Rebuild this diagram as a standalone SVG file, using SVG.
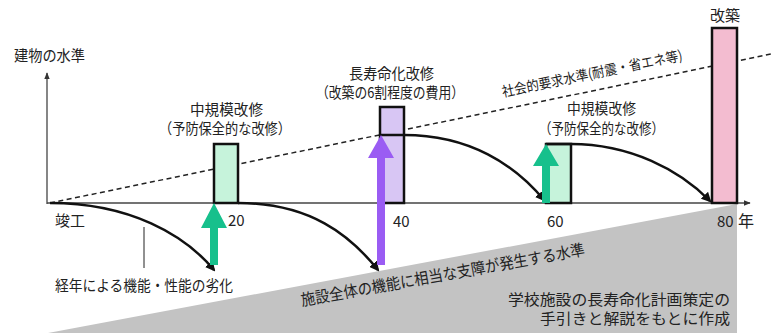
<svg xmlns="http://www.w3.org/2000/svg" width="771" height="333" viewBox="0 0 771 333">
<style>
text{font-family:"Noto Sans CJK JP","Noto Sans",sans-serif;fill:#222;}
.t15{font-size:15px;}
.t16{font-size:16px;}
.t14{font-size:14px;}
.box{stroke:#111;stroke-width:2.5;}
.curve{fill:none;stroke:#111;stroke-width:2.5;}
.axis{stroke:#444;stroke-width:1.3;fill:none;}
</style>
<defs>
<marker id="ah" viewBox="0 0 10 10" refX="8" refY="5" markerWidth="4" markerHeight="4" orient="auto" markerUnits="strokeWidth">
<path d="M0,0 L10,5 L0,10 z" fill="#111"/>
</marker>
<marker id="axh" viewBox="0 0 10 10" refX="9" refY="5" markerWidth="7" markerHeight="7" orient="auto" markerUnits="userSpaceOnUse">
<path d="M0,1 L10,5 L0,9 z" fill="#333"/>
</marker>
</defs>
<rect width="771" height="333" fill="#fff"/>
<g id="gray-zone">
<polygon points="48,333 737,204 737,333" fill="#c3c3c3"/>
</g>
<g id="axes">
<line class="axis" x1="47" y1="204" x2="47" y2="73" marker-end="url(#axh)"/>
<line class="axis" x1="47" y1="203" x2="750" y2="203" marker-end="url(#axh)"/>
</g>
<g id="social-line">
<line x1="50" y1="203" x2="771" y2="54" stroke="#222" stroke-width="1.5" stroke-dasharray="5 3.5"/>
</g>
<g id="box1"><rect class="box" x="214" y="144" width="24" height="59" fill="#c6f3db"/></g>
<g id="box2"><rect class="box" x="380" y="107" width="24" height="96" fill="#d8c6f4"/></g>
<g id="box3"><rect class="box" x="546" y="144" width="25" height="59" fill="#c6f3db"/></g>
<g id="box4"><rect class="box" x="712" y="28" width="25" height="175" fill="#f3bcd0"/></g>
<g id="connectors">
<path class="curve" d="M50,203 C130,203 185,235 214,270" marker-end="url(#ah)"/>
<path class="curve" d="M238,203 C310,203 350,235 378,270" marker-end="url(#ah)"/>
<path class="curve" d="M380,135 L404,135 C470,135 515,165 544,200" marker-end="url(#ah)"/>
<path class="curve" d="M546,144 L571,144 C630,144 680,170 710,201" marker-end="url(#ah)"/>
<line x1="144" y1="227" x2="144" y2="268" stroke="#222" stroke-width="1"/>
</g>
<g id="arrow1"><polygon points="214,203 227,228 218,228 218,265 210,265 210,228 201,228" fill="#17c08c"/></g>
<g id="arrow2"><polygon points="381,135 394,158 385,158 385,265 377,265 377,158 368,158" fill="#9a5cf3"/></g>
<g id="arrow3"><polygon points="546,144 559,166 550,166 550,203 542,203 542,166 533,166" fill="#17c08c"/></g>
<g id="labels">
<text class="t15" x="14" y="61" textLength="71" lengthAdjust="spacingAndGlyphs">建物の水準</text>
<text class="t15" x="55" y="226">竣工</text>
<text class="t15" x="228" y="226">20</text>
<text class="t15" x="393" y="227">40</text>
<text class="t15" x="547" y="227">60</text>
<text class="t15" x="717" y="227">80</text>
<text class="t16" x="738" y="227">年</text>
<text class="t15" x="710" y="21" textLength="30" lengthAdjust="spacingAndGlyphs">改築</text>
<text class="t15" x="190" y="115" textLength="73" lengthAdjust="spacingAndGlyphs">中規模改修</text>
<text class="t15" x="159" y="134" textLength="132" lengthAdjust="spacingAndGlyphs">（予防保全的な改修）</text>
<text class="t15" x="349" y="79" textLength="85" lengthAdjust="spacingAndGlyphs">長寿命化改修</text>
<text class="t15" x="316" y="98" textLength="148" lengthAdjust="spacingAndGlyphs">（改築の6割程度の費用）</text>
<text class="t15" x="567" y="114" textLength="69" lengthAdjust="spacingAndGlyphs">中規模改修</text>
<text class="t15" x="539" y="134" textLength="125" lengthAdjust="spacingAndGlyphs">（予防保全的な改修）</text>
<text class="t14" transform="translate(503,97) rotate(-11.6)" textLength="184" lengthAdjust="spacingAndGlyphs">社会的要求水準(耐震・省エネ等)</text>
<text class="t15" x="55" y="291" textLength="178" lengthAdjust="spacingAndGlyphs">経年による機能・性能の劣化</text>
<text class="t16" transform="translate(302,306) rotate(-10.2)" textLength="288" lengthAdjust="spacingAndGlyphs">施設全体の機能に相当な支障が発生する水準</text>
<text class="t15" x="730" y="305" text-anchor="end" textLength="222" lengthAdjust="spacingAndGlyphs">学校施設の長寿命化計画策定の</text>
<text class="t15" x="730" y="324" text-anchor="end" textLength="190" lengthAdjust="spacingAndGlyphs">手引きと解説をもとに作成</text>
</g>
</svg>
